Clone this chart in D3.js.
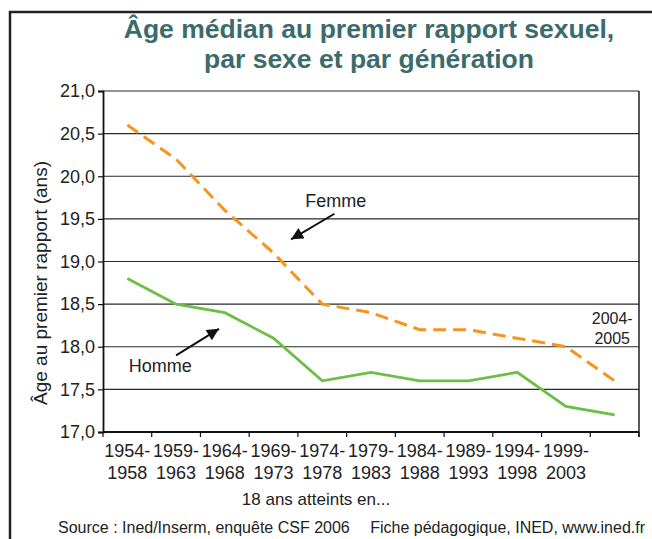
<!DOCTYPE html>
<html>
<head>
<meta charset="utf-8">
<script src="https://cdn.jsdelivr.net/npm/d3@7"></script>
<style>
  body { margin: 0; background: #fff; }
  text { font-family: "Liberation Sans", Arial, sans-serif; fill: #222; }
</style>
</head>
<body>
<div id="chart"></div>
<script>
// data
var startYears = ["1954-", "1959-", "1964-", "1969-", "1974-", "1979-", "1984-", "1989-", "1994-", "1999-", ""];
var endYears = ["1958", "1963", "1968", "1973", "1978", "1983", "1988", "1993", "1998", "2003", ""];
var femme = [20.6, 20.2, 19.6, 19.1, 18.5, 18.4, 18.2, 18.2, 18.1, 18.0, 17.6];
var homme = [18.8, 18.5, 18.4, 18.1, 17.6, 17.7, 17.6, 17.6, 17.7, 17.3, 17.2];
var yTicks = [17.0, 17.5, 18.0, 18.5, 19.0, 19.5, 20.0, 20.5, 21.0];

var svgWidth = 652;
var svgHeight = 539;

var margin = {
  top: 91,
  right: 13,
  bottom: 107,
  left: 103
};

var width = svgWidth - margin.left - margin.right;
var height = svgHeight - margin.top - margin.bottom;

var svg = d3.select("#chart")
  .append("svg")
  .attr("width", svgWidth)
  .attr("height", svgHeight);

// outer frame (only left + top are visible)
svg.append("path")
  .attr("d", "M10,545 L10,12 L660,12")
  .attr("fill", "none")
  .attr("stroke", "#222")
  .attr("stroke-width", 2.5);

// title
var title = svg.append("text")
  .attr("x", 369)
  .attr("y", 38)
  .attr("text-anchor", "middle")
  .style("font-size", "26.5px")
  .style("font-weight", "bold")
  .style("fill", "#3b6b6c");
title.append("tspan").attr("x", 369).text("Âge médian au premier rapport sexuel,");
title.append("tspan").attr("x", 369).attr("dy", 30).text("par sexe et par génération");

var chartGroup = svg.append("g")
  .attr("transform", `translate(${margin.left}, ${margin.top})`);

// scales
var xBand = d3.scaleBand()
  .domain(d3.range(femme.length))
  .range([0, width]);

// linear index scale used for annotations
var xIdx = d3.scaleLinear()
  .domain([0, femme.length])
  .range([0, width]);

var yLinearScale = d3.scaleLinear()
  .domain([17, 21])
  .range([height, 0]);

// gridlines
chartGroup.selectAll(".grid")
  .data(yTicks.slice(1))
  .enter()
  .append("line")
  .attr("x1", 0)
  .attr("x2", width)
  .attr("y1", d => yLinearScale(d))
  .attr("y2", d => yLinearScale(d))
  .attr("stroke", "#2a2a2a")
  .attr("stroke-width", 1.2);

// right border
chartGroup.append("line")
  .attr("x1", width).attr("x2", width)
  .attr("y1", 0).attr("y2", height + 5)
  .attr("stroke", "#222")
  .attr("stroke-width", 1.5);

// y axis
var leftAxis = d3.axisLeft(yLinearScale)
  .tickValues(yTicks)
  .tickSize(5)
  .tickPadding(3)
  .tickFormat(d => d3.format(".1f")(d).replace(".", ","));

var yAxis = chartGroup.append("g")
  .call(leftAxis);
yAxis.select(".domain").attr("stroke", "#111").attr("stroke-width", 1.8);
yAxis.selectAll(".tick line").attr("stroke", "#111").attr("stroke-width", 1.2);
yAxis.selectAll("text")
  .style("font-size", "18px")
  .style("font-family", "Liberation Sans, Arial, sans-serif")
  .attr("fill", "#222");

// x axis : ticks on category boundaries
var xAxis = chartGroup.append("g")
  .attr("transform", `translate(0, ${height})`);
xAxis.append("line")
  .attr("x1", 0).attr("x2", width)
  .attr("stroke", "#111").attr("stroke-width", 1.8);
xAxis.selectAll(".xtick")
  .data(d3.range(femme.length + 1))
  .enter()
  .append("line")
  .attr("x1", d => xIdx(d)).attr("x2", d => xIdx(d))
  .attr("y1", 0).attr("y2", 5)
  .attr("stroke", "#111").attr("stroke-width", 1.2);

var xLabels = xAxis.selectAll(".xlab")
  .data(d3.range(femme.length))
  .enter()
  .append("text")
  .attr("text-anchor", "middle")
  .style("font-size", "18px");
xLabels.append("tspan")
  .attr("x", d => xBand(d) + xBand.bandwidth() / 2)
  .attr("y", 25)
  .text(d => startYears[d]);
xLabels.append("tspan")
  .attr("x", d => xBand(d) + xBand.bandwidth() / 2)
  .attr("y", 47)
  .text(d => endYears[d]);

// lines
var line = d3.line()
  .x((d, i) => xBand(i) + xBand.bandwidth() / 2)
  .y(d => yLinearScale(d));

chartGroup.append("path")
  .datum(homme)
  .attr("d", line)
  .attr("fill", "none")
  .attr("stroke", "#6dbe45")
  .attr("stroke-width", 2.8);

chartGroup.append("path")
  .datum(femme)
  .attr("d", line)
  .attr("fill", "none")
  .attr("stroke", "#f7941d")
  .attr("stroke-width", 3)
  .attr("stroke-dasharray", "13,7");

// annotations
svg.append("defs").append("marker")
  .attr("id", "arrow")
  .attr("viewBox", "0 0 10 10")
  .attr("refX", 10)
  .attr("refY", 5)
  .attr("markerUnits", "userSpaceOnUse")
  .attr("markerWidth", 13)
  .attr("markerHeight", 12)
  .attr("orient", "auto")
  .append("path")
  .attr("d", "M0,0 L10,5 L0,10 Z")
  .attr("fill", "#111");

chartGroup.append("text")
  .attr("x", xIdx(4.15))
  .attr("y", yLinearScale(19.64))
  .style("font-size", "18px")
  .text("Femme");
chartGroup.append("line")
  .attr("x1", xIdx(4.75)).attr("y1", yLinearScale(19.56))
  .attr("x2", xIdx(3.86)).attr("y2", yLinearScale(19.26))
  .attr("stroke", "#111").attr("stroke-width", 2)
  .attr("marker-end", "url(#arrow)");

chartGroup.append("text")
  .attr("x", xIdx(0.53))
  .attr("y", yLinearScale(17.70))
  .style("font-size", "18px")
  .text("Homme");
chartGroup.append("line")
  .attr("x1", xIdx(1.5)).attr("y1", yLinearScale(17.9))
  .attr("x2", xIdx(2.38)).attr("y2", yLinearScale(18.21))
  .attr("stroke", "#111").attr("stroke-width", 2)
  .attr("marker-end", "url(#arrow)");

var lastLabel = chartGroup.append("text")
  .attr("text-anchor", "middle")
  .style("font-size", "16px");
lastLabel.append("tspan").attr("x", xIdx(10.45)).attr("y", yLinearScale(18.27)).text("2004-");
lastLabel.append("tspan").attr("x", xIdx(10.45)).attr("y", yLinearScale(18.03)).text("2005");

// axis titles
svg.append("text")
  .attr("transform", "translate(47, 283) rotate(-90)")
  .attr("text-anchor", "middle")
  .style("font-size", "19px")
  .text("Âge au premier rapport (ans)");

svg.append("text")
  .attr("x", 316)
  .attr("y", 505)
  .attr("text-anchor", "middle")
  .style("font-size", "17px")
  .text("18 ans atteints en...");

// source
svg.append("text")
  .attr("x", 58)
  .attr("y", 533)
  .style("font-size", "16px")
  .text("Source : Ined/Inserm, enquête CSF 2006");
svg.append("text")
  .attr("x", 645)
  .attr("y", 533)
  .attr("text-anchor", "end")
  .style("font-size", "16px")
  .text("Fiche pédagogique, INED, www.ined.fr");
</script>
</body>
</html>
